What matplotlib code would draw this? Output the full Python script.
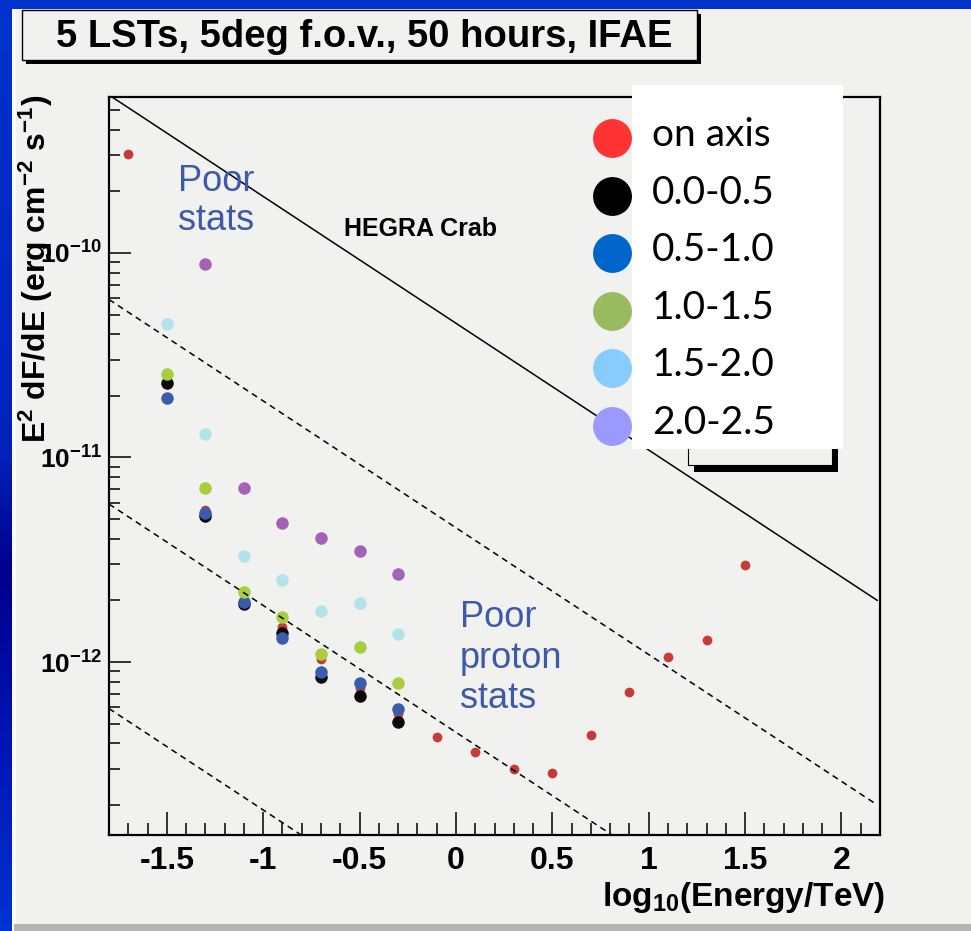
import numpy as np
import matplotlib
matplotlib.use('Agg')
import matplotlib.pyplot as plt
from matplotlib.patches import Rectangle
from matplotlib.lines import Line2D
from matplotlib.ticker import (MultipleLocator, LogLocator, NullFormatter, FuncFormatter,
                               FixedLocator)

plt.rcParams['font.family'] = ['Liberation Sans', 'DejaVu Sans']
plt.rcParams['font.weight'] = 'bold'
plt.rcParams['mathtext.default'] = 'regular'
plt.rcParams['axes.unicode_minus'] = False

# ---------------- data ----------------
log_energy = [-1.5, -1.3, -1.1, -0.9, -0.7, -0.5, -0.3]
log_energy_wide = [-1.3, -1.1, -0.9, -0.7, -0.5, -0.3]
on_axis_x = [-1.7, -1.5, -1.3, -1.1, -0.9, -0.7, -0.5, -0.3, -0.1, 0.1, 0.3, 0.5,
             0.7, 0.9, 1.1, 1.3, 1.5]
on_axis_y = [3.05e-10, 2.33e-11, 5.53e-12, 2.01e-12, 1.49e-12, 1.04e-12, 7.46e-13,
             5.54e-13, 4.30e-13, 3.63e-13, 3.00e-13, 2.87e-13, 4.40e-13, 7.13e-13,
             1.06e-12, 1.28e-12, 2.98e-12]
off_00_05 = [2.31e-11, 5.19e-12, 1.92e-12, 1.39e-12, 8.41e-13, 6.84e-13, 5.11e-13]
off_05_10 = [1.95e-11, 5.37e-12, 1.96e-12, 1.31e-12, 8.93e-13, 7.92e-13, 5.91e-13]
off_10_15 = [2.56e-11, 7.06e-12, 2.21e-12, 1.66e-12, 1.09e-12, 1.18e-12, 7.92e-13]
off_15_20 = [4.51e-11, 1.30e-11, 3.30e-12, 2.51e-12, 1.77e-12, 1.94e-12, 1.37e-12]
off_20_25 = [8.81e-11, 7.11e-12, 4.80e-12, 4.02e-12, 3.49e-12, 2.70e-12]

legend_labels = ['on axis', '0.0-0.5', '0.5-1.0', '1.0-1.5', '1.5-2.0', '2.0-2.5']
legend_colors = ['#ff3333', '#000000', '#0066cc', '#99bb5f', '#88ccff', '#9999ff']

# HEGRA Crab spectrum: dN/dE = 2.83e-11 E^-2.62 (cm^-2 s^-1 TeV^-1)
crab_norm = 2.83e-11
crab_index = 2.62
tev_to_erg = 1.602
crab_fractions = [1.0, 0.1, 0.01, 0.001]
line_log_e = np.array([-1.8, 2.185])

xtick_major = 0.5
xtick_minor = 0.1
ytick_decades = [1e-12, 1e-11, 1e-10]

# ---------------- figure ----------------
W, H = 971, 931
PANEL = '#f1f1ef'
fig = plt.figure(figsize=(W / 100, H / 100), dpi=100, facecolor=PANEL)

def fx(px):
    return px / W

def fy(py):
    return 1 - py / H

# left blue band with vertical gradient
ys = np.array([0, 450, 570, 750, 931]) / H
cols = np.array([[0, 51, 204], [0, 34, 187], [0, 0, 140], [0, 22, 180], [0, 51, 210]]) / 255
yy = np.linspace(0, 1, H)
band = np.stack([np.interp(yy, ys, cols[:, k]) for k in range(3)], axis=-1)
band = np.repeat(band[:, None, :], 12, axis=1)
fig.figimage(band, xo=0, yo=0, origin='upper', zorder=0)
fig.patches.append(Rectangle((fx(12), 0), 4 / W, 1, transform=fig.transFigure,
                             facecolor='#fafafa', edgecolor='none', zorder=0.5))
fig.patches.append(Rectangle((0, fy(9)), 1, 9 / H, transform=fig.transFigure,
                             facecolor='#0033cc', edgecolor='none', zorder=1))
fig.patches.append(Rectangle((fx(14), 0), 1, 7 / H, transform=fig.transFigure,
                             facecolor='#b4b4b4', edgecolor='none', zorder=1))

# title box with shadow
fig.patches.append(Rectangle((fx(26), fy(64)), (701 - 26) / W, (64 - 14) / H,
                             transform=fig.transFigure, facecolor='black',
                             edgecolor='none', zorder=1))
fig.patches.append(Rectangle((fx(22), fy(60)), (697 - 22) / W, (60 - 10) / H,
                             transform=fig.transFigure, facecolor=PANEL,
                             edgecolor='black', lw=1.0, zorder=1.1))
fig.text(fx(364), fy(47), '5 LSTs, 5deg f.o.v., 50 hours, IFAE', ha='center',
         va='baseline', fontsize=27.5, fontweight='bold')

# ---------------- axes ----------------
ax = fig.add_axes([fx(109), fy(835), (880 - 109) / W, (835 - 97) / H])
ax.set_facecolor(PANEL)
ax.set_yscale('log')
ax.set_xlim(-1.8, 2.2)
ax.set_ylim(1.426e-13, 5.79e-10)
for s in ax.spines.values():
    s.set_linewidth(1.6)

ms_small, ms_big = 7.0, 9.0
ax.plot(on_axis_x, on_axis_y, 'o', ms=ms_small, color='#c73a37', mec='none', zorder=2)
ax.plot(log_energy, off_00_05, 'o', ms=ms_big, color='#0a0a0a', mec='none', zorder=2)
ax.plot(log_energy, off_05_10, 'o', ms=ms_big, color='#3a5cad', mec='none', zorder=2)
ax.plot(log_energy, off_10_15, 'o', ms=ms_big, color='#a8cd3e', mec='none', zorder=2)
ax.plot(log_energy, off_15_20, 'o', ms=ms_big, color='#b3e3ea', mec='none', zorder=2)
ax.plot(log_energy_wide, off_20_25, 'o', ms=ms_big, color='#a462b6', mec='none', zorder=2)

for frac in crab_fractions:
    flux = frac * crab_norm * tev_to_erg * 10 ** ((2 - crab_index) * line_log_e)
    ls = '-' if frac == 1.0 else (0, (4, 3))
    ax.plot(line_log_e, flux, color='black', lw=1.1, ls=ls, zorder=3)

ax.xaxis.set_major_locator(MultipleLocator(xtick_major))
ax.xaxis.set_minor_locator(MultipleLocator(xtick_minor))
ax.xaxis.set_major_formatter(FuncFormatter(lambda v, p: '%g' % round(v, 2) if abs(v) > 1e-9 else '0'))
ax.yaxis.set_major_locator(FixedLocator(ytick_decades))
ax.yaxis.set_minor_locator(LogLocator(base=10, subs=np.arange(2, 10), numticks=20))
ax.yaxis.set_minor_formatter(NullFormatter())
ax.yaxis.set_major_formatter(FuncFormatter(lambda v, p: r'10$^{%d}$' % round(np.log10(v))))

ax.tick_params(axis='x', which='major', direction='in', length=16.5, width=1.1,
               top=False, labelsize=23, pad=8)
ax.tick_params(axis='x', which='minor', direction='in', length=8.5, width=1.1, top=False)
ax.tick_params(axis='y', which='major', direction='in', length=16, width=1.1,
               right=False, labelsize=19, pad=5)
ax.tick_params(axis='y', which='minor', direction='in', length=8, width=1.1, right=False)

# axis labels
fig.text(fx(36), fy(269), r'E$^{2}$ dF/dE (erg cm$^{-2}$ s$^{-1}$)', rotation=90,
         ha='center', va='center', fontsize=23)
fig.text(fx(885), fy(906), r'log$_{10}$(Energy/TeV)', ha='right', va='baseline',
         fontsize=24)

# annotations
fig.text(fx(420), fy(229), 'HEGRA Crab', ha='center', va='center', fontsize=18)
blue_txt = '#3d5aa8'
fig.text(fx(178), fy(230), 'Poor\nstats', ha='left', va='baseline', fontsize=26,
         fontweight='normal', color=blue_txt, linespacing=1.15)
fig.text(fx(460), fy(708), 'Poor\nproton\nstats', ha='left', va='baseline',
         fontsize=26, fontweight='normal', color=blue_txt, linespacing=1.2)

# remnant of the original legend box (frame + shadow)
fig.patches.append(Rectangle((fx(694), fy(472)), (838 - 694) / W, (472 - 400) / H,
                             transform=fig.transFigure, facecolor='black',
                             edgecolor='none', zorder=10))
fig.patches.append(Rectangle((fx(688), fy(465)), (832 - 688) / W, (465 - 400) / H,
                             transform=fig.transFigure, facecolor=PANEL,
                             edgecolor='black', lw=0.8, zorder=10.5))
# overlay legend
fig.patches.append(Rectangle((fx(632), fy(449)), (843 - 632) / W, (449 - 85) / H,
                             transform=fig.transFigure, facecolor='white',
                             edgecolor='none', zorder=11))
row0, pitch = 138, 57.6
for i, (lab, col) in enumerate(zip(legend_labels, legend_colors)):
    yc = row0 + pitch * i
    fig.add_artist(Line2D([fx(612)], [fy(yc)], marker='o', ms=28, color=col,
                          mec='none', ls='none', transform=fig.transFigure, zorder=12))
    fig.text(fx(652), fy(yc + 8), lab, ha='left', va='baseline', fontsize=28,
             family=['Lato', 'DejaVu Sans'], fontweight='normal', zorder=13)

fig.savefig('out.png', dpi=100, facecolor=PANEL)
